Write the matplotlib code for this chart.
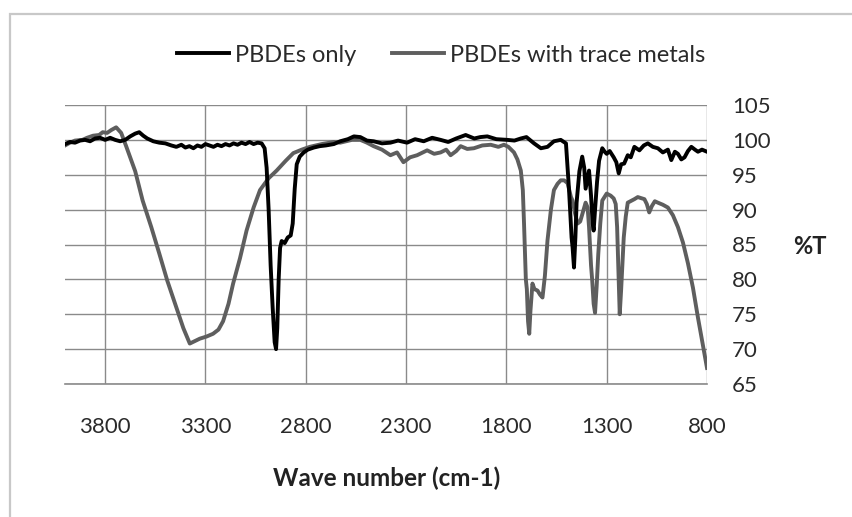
import matplotlib.pyplot as plt
from matplotlib.patches import Rectangle

plt.rcParams['font.family'] = ['Lato', 'DejaVu Sans']

# PBDEs only (black)
wn_only = [4000, 3975, 3950, 3925, 3900, 3875, 3850, 3825, 3800, 3775, 3750, 3725,
           3700, 3675, 3650, 3630, 3610, 3590, 3560, 3530, 3500, 3470, 3445, 3420,
           3400, 3380, 3360, 3340, 3320, 3300, 3280, 3260, 3240, 3220, 3200, 3180,
           3160, 3140, 3120, 3100, 3080, 3060, 3040, 3020, 3005, 2995, 2985, 2975,
           2965, 2955, 2948, 2942, 2935, 2928, 2920, 2905, 2890, 2875, 2865, 2855,
           2845, 2830, 2810, 2790, 2760, 2730, 2700, 2660, 2628, 2590, 2560, 2528,
           2495, 2462, 2420, 2378, 2340, 2295, 2255, 2212, 2170, 2128, 2090, 2050,
           2003, 1960, 1930, 1895, 1850, 1795, 1760, 1728, 1700, 1662, 1628, 1595,
           1563, 1529, 1503, 1488, 1475, 1470, 1463, 1456, 1450, 1436, 1422, 1412,
           1405, 1395, 1388, 1378, 1370, 1365, 1358, 1348, 1338, 1322, 1310, 1300,
           1285, 1265, 1252, 1240, 1228, 1213, 1195, 1180, 1162, 1137, 1115, 1095,
           1070, 1045, 1020, 995, 978, 960, 945, 928, 912, 895, 878, 860, 845, 825, 800]
t_only = [99.4, 99.7, 99.6, 99.9, 100.0, 99.8, 100.2, 100.3, 100.0, 100.3, 100.0, 99.8,
          100.0, 100.5, 100.9, 101.1, 100.6, 100.2, 99.8, 99.6, 99.5, 99.2, 99.0, 99.3,
          98.9, 99.1, 98.8, 99.2, 99.0, 99.4, 99.2, 99.0, 99.3, 99.1, 99.4, 99.2,
          99.5, 99.3, 99.6, 99.4, 99.7, 99.4, 99.6, 99.5, 98.8, 96.0, 90.0, 82.0,
          76.0, 71.0, 70.0, 73.0, 80.0, 84.5, 85.5, 85.2, 86.0, 86.3, 88.0, 93.0,
          96.5, 97.6, 98.2, 98.6, 98.9, 99.1, 99.2, 99.4, 99.8, 100.1, 100.5, 100.4,
          99.9, 99.8, 99.5, 99.6, 99.9, 99.6, 100.1, 99.8, 100.3, 100.0, 99.7, 100.2,
          100.7, 100.2, 100.4, 100.5, 100.1, 100.0, 99.9, 100.2, 100.4, 99.5, 98.8, 99.0,
          99.8, 100.0, 99.5, 93.0, 86.0, 84.6, 81.7, 86.0, 91.0, 95.5, 97.6, 96.0,
          93.0, 94.5, 95.6, 92.0, 88.0, 87.0, 90.0, 94.0, 97.0, 98.8, 98.3, 98.0,
          98.4, 97.5, 96.8, 95.2, 96.5, 96.6, 97.8, 97.5, 99.0, 98.5, 99.2, 99.5,
          99.0, 98.8, 98.2, 98.6, 97.1, 98.3, 98.0, 97.2, 97.5, 98.4, 99.0, 98.6, 98.3, 98.6, 98.3]

# PBDEs with trace metals (grey)
wn_metals = [4000, 3975, 3950, 3913, 3890, 3860, 3830, 3812, 3790, 3770, 3745, 3720,
             3694, 3650, 3613, 3570, 3530, 3490, 3445, 3410, 3378, 3350, 3328, 3295,
             3262, 3235, 3212, 3185, 3162, 3128, 3095, 3060, 3028, 2985, 2945, 2900,
             2862, 2820, 2780, 2720, 2660, 2628, 2570, 2528, 2495, 2462, 2420, 2378,
             2345, 2313, 2280, 2245, 2195, 2160, 2128, 2100, 2078, 2050, 2028, 1995,
             1962, 1920, 1878, 1840, 1812, 1790, 1762, 1745, 1728, 1718, 1712, 1703,
             1698, 1692, 1686, 1680, 1670, 1660, 1645, 1632, 1620, 1608, 1595, 1578,
             1563, 1545, 1529, 1512, 1495, 1478, 1470, 1458, 1445, 1432, 1420, 1405,
             1395, 1388, 1378, 1372, 1365, 1358, 1350, 1342, 1332, 1322, 1300, 1280,
             1265, 1255, 1248, 1240, 1235, 1228, 1215, 1205, 1195, 1162, 1145, 1112,
             1100, 1088, 1075, 1060, 1045, 1020, 995, 970, 945, 920, 895, 870, 845, 820, 800]
t_metals = [99.2, 99.6, 99.9, 100.0, 100.3, 100.6, 100.7, 101.1, 101.0, 101.4, 101.8, 101.0,
            99.0, 95.5, 91.3, 87.5, 83.7, 79.8, 76.0, 73.0, 70.8, 71.2, 71.5, 71.8,
            72.2, 72.8, 74.0, 76.5, 79.4, 83.0, 87.0, 90.3, 92.8, 94.5, 95.6, 97.0,
            98.1, 98.6, 99.0, 99.4, 99.7, 99.6, 100.0, 100.0, 99.6, 99.1, 98.6, 97.8,
            98.2, 96.8, 97.5, 97.8, 98.5, 98.0, 98.2, 98.6, 97.8, 98.4, 99.1, 98.7,
            98.8, 99.2, 99.3, 99.0, 99.3, 99.0, 98.2, 97.2, 95.6, 92.8, 88.0, 80.0,
            78.6, 74.0, 72.2, 75.5, 79.4, 78.6, 78.4, 77.8, 77.4, 80.5, 85.6, 90.0,
            92.8, 93.7, 94.2, 94.2, 93.8, 91.8, 91.3, 89.5, 88.0, 88.3, 89.5, 91.0,
            90.3, 87.5, 82.0, 79.8, 76.5, 75.2, 79.0, 83.6, 88.0, 91.3, 92.3, 92.0,
            91.6, 90.8, 87.5, 80.0, 75.0, 78.5, 86.0, 89.0, 91.0, 91.5, 91.8, 91.5,
            90.8, 89.6, 90.5, 91.2, 91.0, 90.7, 90.3, 89.2, 87.5, 85.3, 82.3, 78.8, 74.5, 70.5, 67.3]

x_ticks = [3800, 3300, 2800, 2300, 1800, 1300, 800]
y_ticks = [65, 70, 75, 80, 85, 90, 95, 100, 105]

W, H = 852, 517
fig = plt.figure(figsize=(W / 100, H / 100), dpi=100)
ax = fig.add_axes([65 / W, 1 - 384 / H, (707 - 65) / W, (384 - 105) / H])

# chart frame
fig.patches.append(Rectangle((10 / W, -0.1), 1.2, 1.1 - 14 / H, transform=fig.transFigure,
                             fill=False, edgecolor='#c8c8c8', linewidth=1.6))

ax.plot(wn_metals, t_metals, color='#5e5e5e', lw=2.8, label='PBDEs with trace metals',
        zorder=3, solid_joinstyle='round')
ax.plot(wn_only, t_only, color='#000000', lw=2.8, label='PBDEs only',
        zorder=4, solid_joinstyle='round')

ax.set_xlim(4000, 800)
ax.set_ylim(65, 105)
ax.set_xticks(x_ticks)
ax.set_yticks(y_ticks)
ax.grid(True, color='#8a8a8a', lw=1.0)
ax.set_axisbelow(True)
for s in ['top', 'left', 'right']:
    ax.spines[s].set_visible(False)
ax.spines['bottom'].set_color('#8a8a8a')
ax.spines['bottom'].set_linewidth(1.2)

ax.yaxis.tick_right()
ax.tick_params(axis='y', length=0, pad=18, labelsize=16, labelcolor='#2a2a2a')
ax.tick_params(axis='x', length=0, pad=24, labelsize=16, labelcolor='#2a2a2a')

fig.text(387 / W, 1 - 478 / H, 'Wave number (cm-1)', ha='center', va='center',
         fontsize=17.5, fontweight='bold', color='#222222')
fig.text(810 / W, 1 - 247 / H, '%T', ha='center', va='center',
         fontsize=17, fontweight='bold', color='#222222')

h, l = ax.get_legend_handles_labels()
leg = fig.legend(h[::-1], l[::-1], loc='center', bbox_to_anchor=(441 / W, 1 - 55 / H),
                 ncol=2, frameon=False, fontsize=17, handlelength=2.2, handletextpad=0.27,
                 columnspacing=1.5)
for t in leg.get_texts():
    t.set_color('#2a2a2a')

fig.savefig('out.png', dpi=100)
